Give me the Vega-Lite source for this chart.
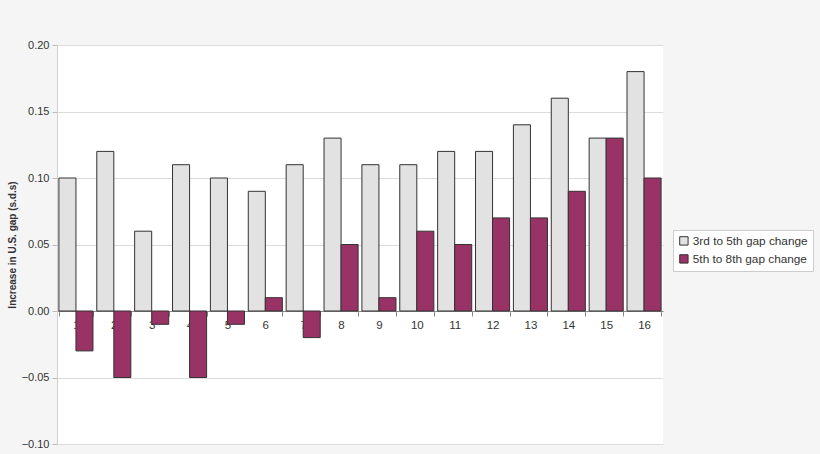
{
  "$schema": "https://vega.github.io/schema/vega-lite/v6.json",
  "width": 606,
  "height": 399,
  "autosize": {"type": "none"},
  "padding": {"left": 57, "top": 45, "right": 157, "bottom": 10},
  "background": "#f5f5f5",
  "view": {"fill": "white", "stroke": null},
  "config": {"font": "Liberation Sans"},
  "data": {
    "values": [
      {"grade": "1", "series": "3rd to 5th gap change", "value": 0.10},
      {"grade": "2", "series": "3rd to 5th gap change", "value": 0.12},
      {"grade": "3", "series": "3rd to 5th gap change", "value": 0.06},
      {"grade": "4", "series": "3rd to 5th gap change", "value": 0.11},
      {"grade": "5", "series": "3rd to 5th gap change", "value": 0.10},
      {"grade": "6", "series": "3rd to 5th gap change", "value": 0.09},
      {"grade": "7", "series": "3rd to 5th gap change", "value": 0.11},
      {"grade": "8", "series": "3rd to 5th gap change", "value": 0.13},
      {"grade": "9", "series": "3rd to 5th gap change", "value": 0.11},
      {"grade": "10", "series": "3rd to 5th gap change", "value": 0.11},
      {"grade": "11", "series": "3rd to 5th gap change", "value": 0.12},
      {"grade": "12", "series": "3rd to 5th gap change", "value": 0.12},
      {"grade": "13", "series": "3rd to 5th gap change", "value": 0.14},
      {"grade": "14", "series": "3rd to 5th gap change", "value": 0.16},
      {"grade": "15", "series": "3rd to 5th gap change", "value": 0.13},
      {"grade": "16", "series": "3rd to 5th gap change", "value": 0.18},
      {"grade": "1", "series": "5th to 8th gap change", "value": -0.03},
      {"grade": "2", "series": "5th to 8th gap change", "value": -0.05},
      {"grade": "3", "series": "5th to 8th gap change", "value": -0.01},
      {"grade": "4", "series": "5th to 8th gap change", "value": -0.05},
      {"grade": "5", "series": "5th to 8th gap change", "value": -0.01},
      {"grade": "6", "series": "5th to 8th gap change", "value": 0.01},
      {"grade": "7", "series": "5th to 8th gap change", "value": -0.02},
      {"grade": "8", "series": "5th to 8th gap change", "value": 0.05},
      {"grade": "9", "series": "5th to 8th gap change", "value": 0.01},
      {"grade": "10", "series": "5th to 8th gap change", "value": 0.06},
      {"grade": "11", "series": "5th to 8th gap change", "value": 0.05},
      {"grade": "12", "series": "5th to 8th gap change", "value": 0.07},
      {"grade": "13", "series": "5th to 8th gap change", "value": 0.07},
      {"grade": "14", "series": "5th to 8th gap change", "value": 0.09},
      {"grade": "15", "series": "5th to 8th gap change", "value": 0.13},
      {"grade": "16", "series": "5th to 8th gap change", "value": 0.10}
    ]
  },
  "mark": {"type": "bar", "stroke": "#333333", "strokeWidth": 1, "cornerRadius": 0},
  "encoding": {
    "x": {
      "field": "grade",
      "type": "nominal",
      "sort": null,
      "scale": {"paddingInner": 0.1, "paddingOuter": 0.05},
      "axis": {
        "title": null,
        "labelAngle": 0,
        "offset": -133,
        "domainColor": "#888888",
        "tickColor": "#888888",
        "tickBand": "extent",
        "tickSize": 5,
        "labelPadding": 3,
        "labelFontSize": 11.5,
        "labelColor": "#333333",
        "grid": false
      }
    },
    "xOffset": {"field": "series", "type": "nominal"},
    "y": {
      "field": "value",
      "type": "quantitative",
      "scale": {"domain": [-0.1, 0.2], "nice": false},
      "axis": {
        "title": "Increase in U.S. gap (s.d.s)",
        "titleFontSize": 10,
        "titleFontWeight": "bold",
        "titleColor": "#333333",
        "titleX": -45,
        "titleBaseline": "middle",
        "values": [-0.1, -0.05, 0, 0.05, 0.1, 0.15, 0.2],
        "format": ".2f",
        "labelFontSize": 11,
        "labelColor": "#333333",
        "labelPadding": 3,
        "tickSize": 5,
        "tickColor": "#bbbbbb",
        "domainColor": "#d0d0d0",
        "gridColor": "#dcdcdc",
        "labelFlush": false
      }
    },
    "color": {
      "field": "series",
      "type": "nominal",
      "scale": {"range": ["#e2e2e2", "#993366"]},
      "legend": {
        "title": null,
        "orient": "none",
        "legendX": 616,
        "legendY": 185,
        "symbolType": "square",
        "symbolSize": 70,
        "symbolStrokeColor": "#333333",
        "symbolStrokeWidth": 1,
        "labelFontSize": 11.8,
        "labelColor": "#333333",
        "fillColor": "white",
        "strokeColor": "#cccccc",
        "padding": 5,
        "rowPadding": 4,
        "labelOffset": 3
      }
    }
  }
}
